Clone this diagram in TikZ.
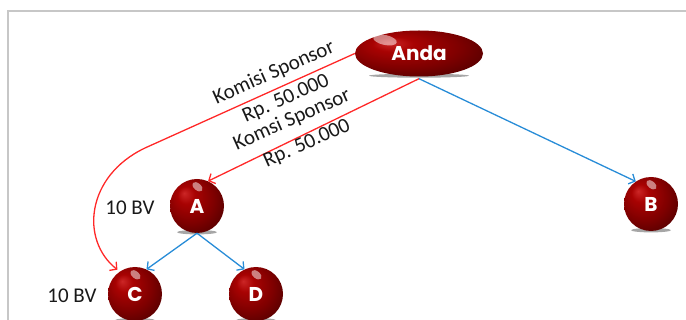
\documentclass[tikz,border=0pt]{standalone}
\usepackage{fontspec}
\setmainfont{Carlito}
\newfontfamily\gothic{Poppins}
\usetikzlibrary{shapes.geometric,arrows.meta,backgrounds}
\pgfdeclareradialshading{redball}{\pgfpoint{-12bp}{12bp}}{rgb(0bp)=(0.80,0.15,0.15); rgb(8bp)=(0.66,0.01,0.01); rgb(22bp)=(0.50,0,0); rgb(36bp)=(0.30,0,0); rgb(50bp)=(0.10,0,0)}
\definecolor{lnred}{RGB}{255,40,40}
\definecolor{lnblue}{RGB}{40,140,215}
\definecolor{txt}{RGB}{25,25,25}
\tikzset{
  ball/.style={circle, minimum size=54pt, inner sep=0pt, shading=redball, text=white,
    font=\gothic\bfseries\fontsize{20}{20}\selectfont},
  oval/.style={ellipse, minimum width=128pt, minimum height=46pt, inner sep=0pt, shading=redball, text=white,
    font=\gothic\bfseries\fontsize{20}{20}\selectfont},
  lbl/.style={text=txt, font=\fontsize{21}{21}\selectfont, inner sep=0pt},
  slbl/.style={lbl, rotate=24},
  redln/.style={draw=lnred, line width=1.3pt, -{Straight Barb[length=5pt,width=11pt]}},
  blueln/.style={draw=lnblue, line width=1.3pt, -{Straight Barb[length=5pt,width=11pt]}},
  gloss/.style={white, opacity=0.5},
  shadow/.style={black, opacity=0.35},
}
\begin{document}
\begin{tikzpicture}[x=1pt,y=-1pt]
\useasboundingbox (0,0) rectangle (686,320);
\draw[black!22, line width=1.3pt] (8,320) -- (8,11) -- (686,11);

\node[oval] (anda) at (419,53.5) {Anda};
\node[ball] (a) at (197,206) {A};
\node[ball] (b) at (651,204) {B};
\node[ball] (c) at (135,294) {C};
\node[ball] (d) at (256,294) {D};

\begin{pgfonlayer}{background}
  \foreach \n in {a,b,c,d} \fill[shadow] ([yshift=1pt]\n.south) ellipse (20pt and 2.2pt);
  \fill[shadow] ([yshift=1pt]anda.south) ellipse (50pt and 2pt);
\end{pgfonlayer}

\fill[gloss, rotate around={-12:(385,40)}] (385,40) ellipse (12pt and 5pt);
\foreach \n in {a,b,c,d} \fill[gloss, rotate around={-40:([xshift=-12pt,yshift=15pt]\n.center)}] ([xshift=-12pt,yshift=15pt]\n.center) ellipse (6pt and 3.5pt);

\node[lbl] (bva) at (130,208) {10 BV};
\node[lbl] (bvc) at (72,296) {10 BV};

\coordinate (bend) at (145,148);
\draw[redln] (anda.west) -- (bend) .. controls (86,176) and (80,240) .. ([shift={(-2pt,2pt)}]c.125);
\draw[redln] ([yshift=-2pt]anda.south) -- (a.66);
\draw[blueln] ([yshift=-2pt]anda.south) -- (b.124);
\draw[blueln] (a.south) -- (c.65);
\draw[blueln] (a.south) -- (d.115);

\node[slbl] (k1) at (274,73) {Komisi Sponsor};
\node[slbl] (r1) at (286,99) {Rp. 50.000};
\node[slbl] (k2) at (292,120) {Komsi Sponsor};
\node[slbl] (r2) at (307,144) {Rp. 50.000};
\end{tikzpicture}
\end{document}
